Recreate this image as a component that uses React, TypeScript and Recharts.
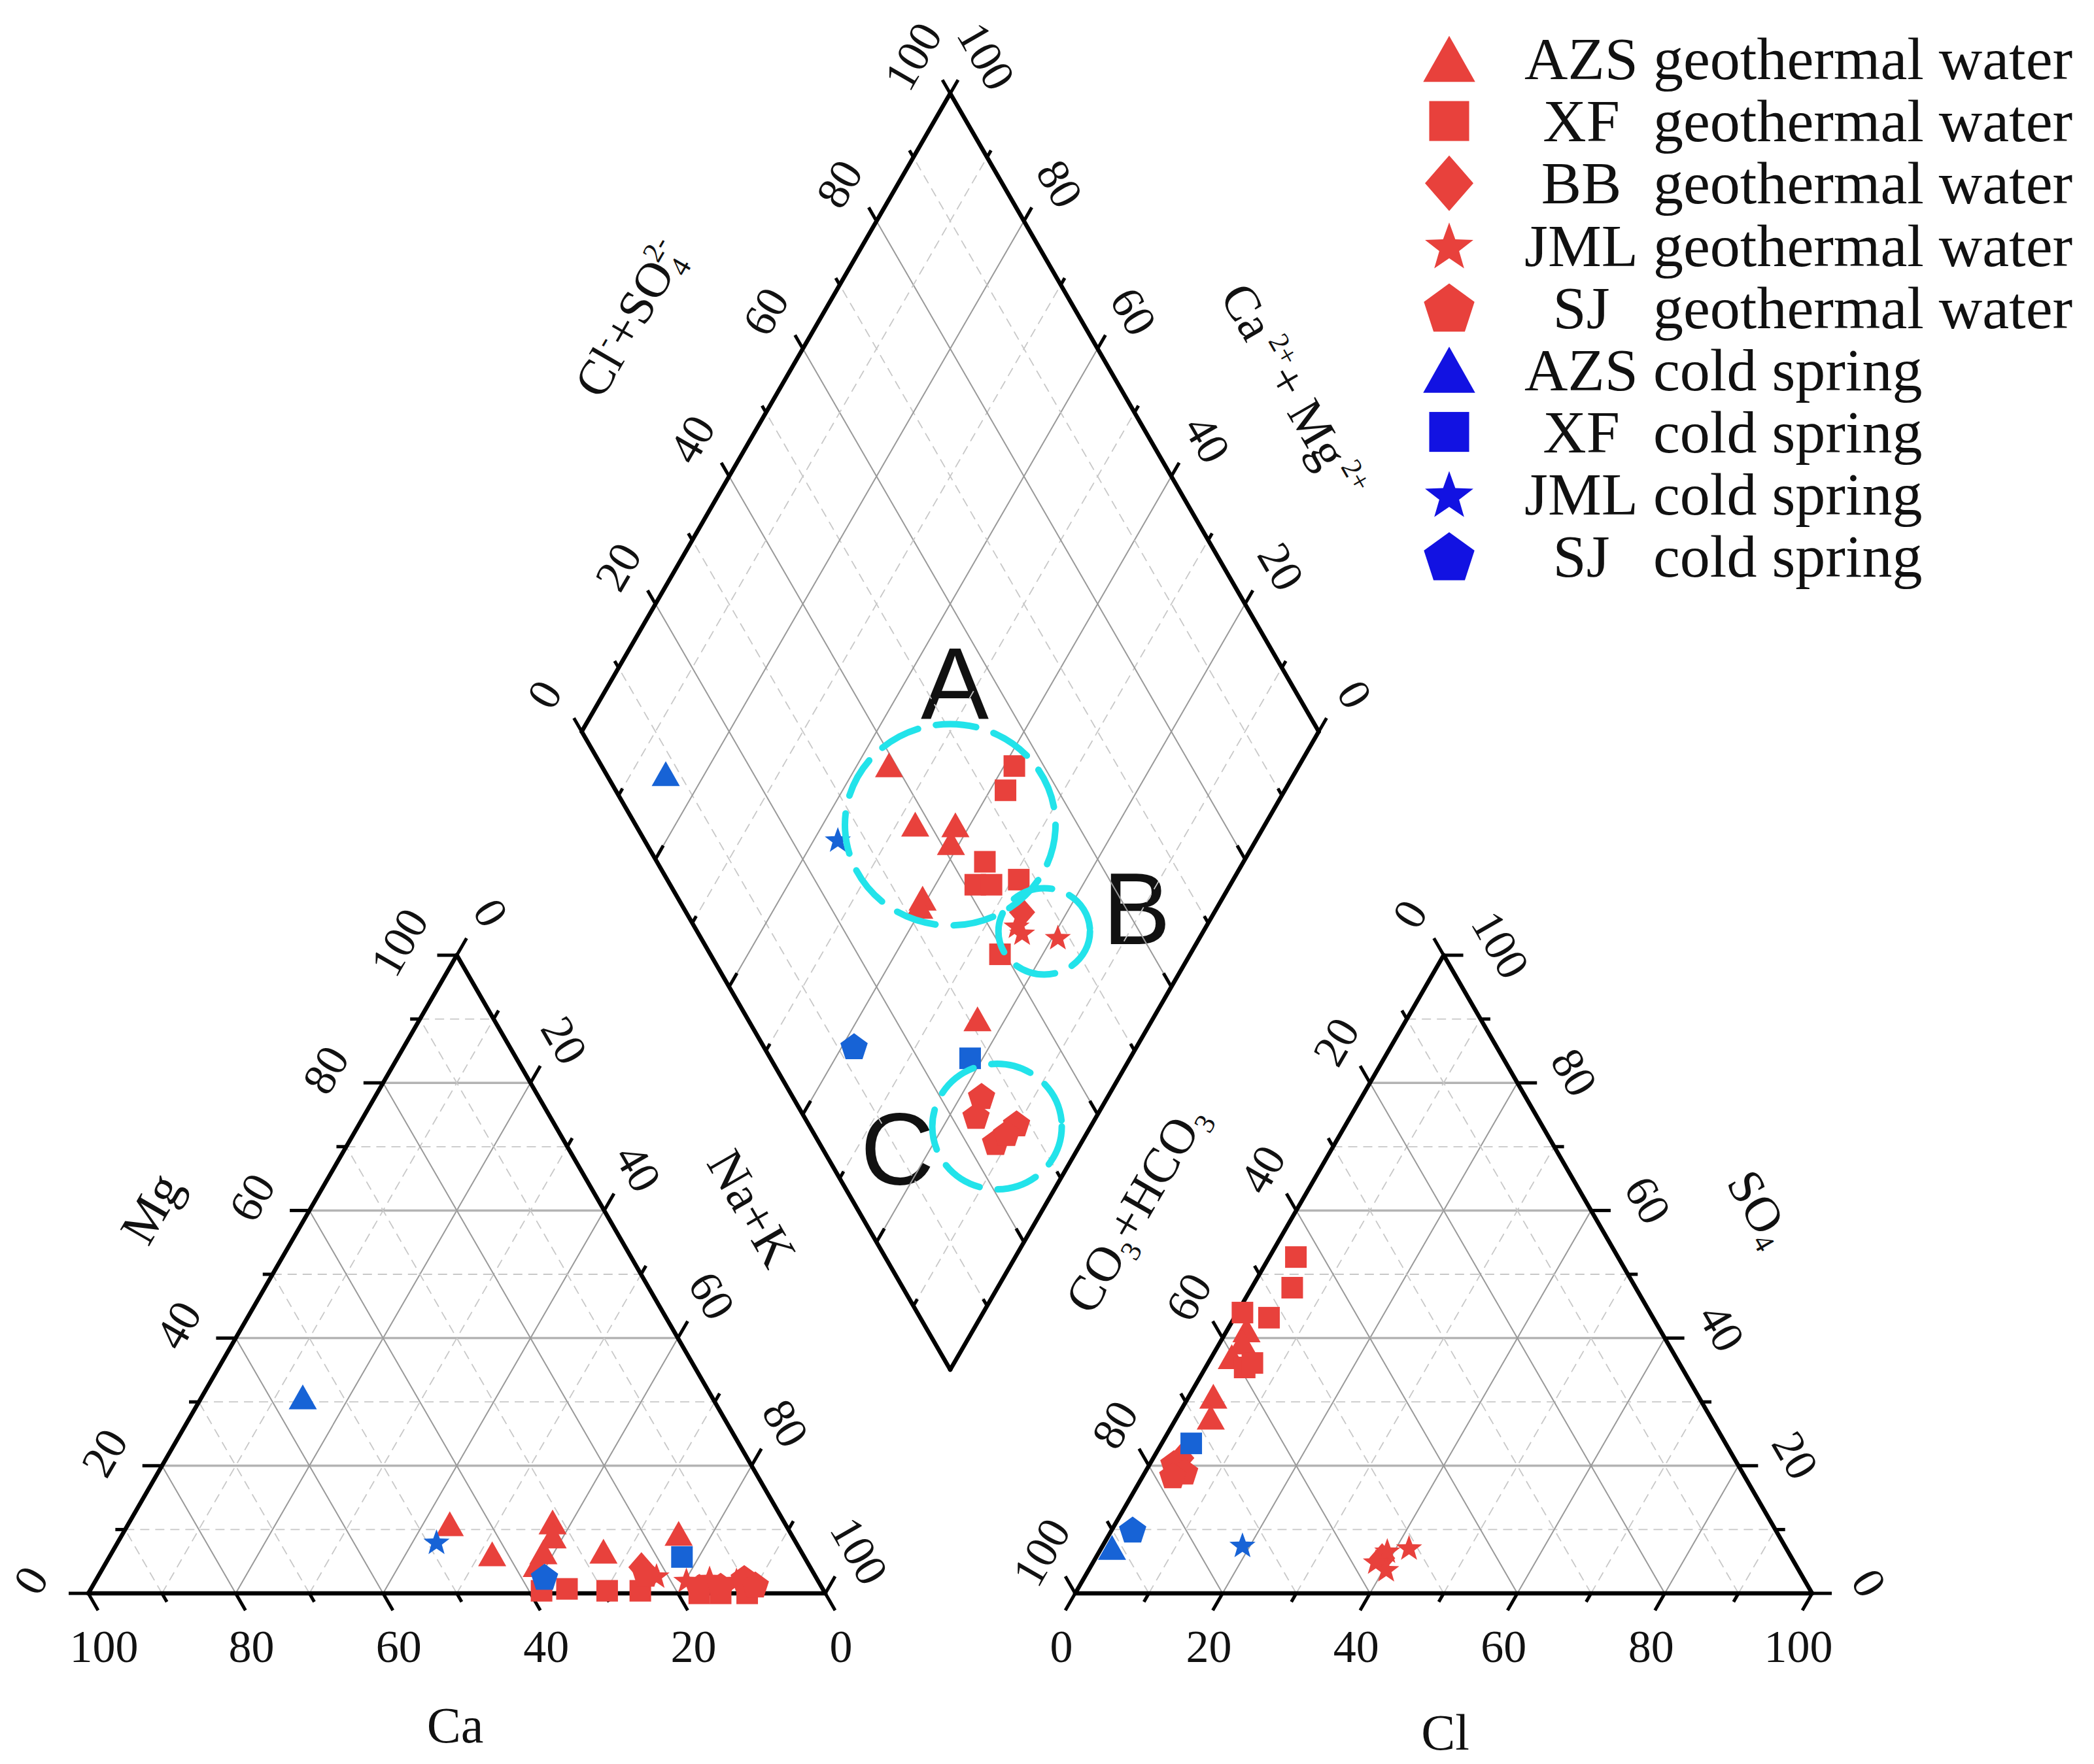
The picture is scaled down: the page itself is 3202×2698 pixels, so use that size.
import React from "react";
import {
  ScatterChart,
  Scatter,
  XAxis,
  YAxis,
  ReferenceLine,
  ReferenceDot,
  Customized,
} from "recharts";

// canvas + layout of the three Piper fields (units: percent along a side)
const W = 3202;
const H = 2698;
const U = 11.27; // px per percent
const OX = 135; // px x of the Ca corner
const OY = 2437; // px y of the triangle bases
const GAP = 33.9; // gap between cation and anion triangles
const AOX = 100 + GAP; // left corner of the anion triangle
const S3 = Math.sqrt(3) / 2;
const DBX = 100 + GAP / 2; // bottom corner of the diamond
const DBY = 30.35;

const X_DOMAIN = [-OX / U, (W - OX) / U];
const Y_DOMAIN = [-(H - OY) / U, OY / U];

const RED = "#E8413C";
const BLUE = "#1763D6";
const BLUE_KEY = "#1212E2";
const SERIF = "'Liberation Serif','Times New Roman',serif";
const SANS = "'Liberation Sans',Arial,sans-serif";

const TICKS = [0, 10, 20, 30, 40, 50, 60, 70, 80, 90, 100];
const GRID = [10, 20, 30, 40, 50, 60, 70, 80, 90];
const LABELS = [0, 20, 40, 60, 80, 100];

// cation triangle: [Mg, Na+K] in %
const cationAzsGeo = [[10.9, 43.6], [6.2, 51.7], [11.2, 57.4], [9.0, 58.5], [6.5, 58.5], [4.5, 58.6], [6.6, 66.6], [9.4, 75.4]];
const cationXfGeo = [[0.4, 61.3], [0.7, 64.6], [0.4, 70.2], [0.4, 74.7], [0, 82.9], [0, 85.8], [0, 89.4]];
const cationBbGeo = [[4.1, 73.0]];
const cationJmlGeo = [[2.8, 75.7], [2.1, 80.1], [2.4, 83.1], [2.1, 86.9]];
const cationSjGeo = [[1.0, 82.4], [1.2, 85.2], [2.4, 87.8], [1.4, 89.8], [3.1, 74.1]];
const cationAzsCold = [[30.8, 13.7]];
const cationXfCold = [[5.7, 77.7]];
const cationJmlCold = [[8.1, 43.2]];
const cationSjCold = [[2.6, 60.6]];

// anion triangle: [SO4, Cl] in %
const anionAzsGeo = [[41.3, 2.6], [39.4, 3.0], [37.1, 2.7], [30.9, 3.3], [27.6, 4.6]];
const anionXfGeo = [[52.7, 3.6], [47.9, 5.5], [43.2, 4.7], [44.0, 0.7], [35.4, 5.3], [36.1, 6.0]];
const anionBbGeo = [[21.2, 3.8], [5.5, 38.9]];
const anionJmlGeo = [[6.7, 39.0], [7.2, 41.7], [5.0, 38.3], [3.8, 40.3]];
const anionSjGeo = [[20.4, 3.2], [19.1, 5.3], [18.5, 4.0]];
const anionAzsCold = [[7.2, 1.4]];
const anionXfCold = [[23.5, 4.0]];
const anionJmlCold = [[7.6, 18.9]];
const anionSjCold = [[10.0, 2.8]];

// diamond: [Cl+SO4, Ca+Mg] in %
const diamondAzsGeo = [[39.1, 55.7], [38.0, 47.5], [43.4, 42.0], [41.4, 41.2], [33.2, 40.7], [32.1, 40.5], [31.2, 23.8]];
const diamondXfGeo = [[56.0, 38.6], [52.9, 37.9], [44.5, 35.1], [41.4, 34.6], [43.6, 32.4], [47.7, 29.1], [39.3, 25.8]];
const diamondBbGeo = [[45.6, 26.1]];
const diamondJmlGeo = [[44.0, 24.5], [48.5, 19.3], [43.8, 25.8]];
const diamondSjGeo = [[25.7, 17.2], [23.4, 16.4], [24.0, 11.7], [28.3, 10.3], [26.2, 10.9]];
const diamondAzsCold = [[8.1, 85.3]];
const diamondXfCold = [[27.1, 21.7]];
const diamondJmlCold = [[26.3, 56.8]];
const diamondSjCold = [[12.3, 38.4]];

const groups = [
  { abbr: "AZS", desc: "geothermal water", kind: "triangle", color: RED, key: RED, cation: cationAzsGeo, anion: anionAzsGeo, diamond: diamondAzsGeo },
  { abbr: "XF", desc: "geothermal water", kind: "square", color: RED, key: RED, cation: cationXfGeo, anion: anionXfGeo, diamond: diamondXfGeo },
  { abbr: "BB", desc: "geothermal water", kind: "diamond", color: RED, key: RED, cation: cationBbGeo, anion: anionBbGeo, diamond: diamondBbGeo },
  { abbr: "JML", desc: "geothermal water", kind: "star", color: RED, key: RED, cation: cationJmlGeo, anion: anionJmlGeo, diamond: diamondJmlGeo },
  { abbr: "SJ", desc: "geothermal water", kind: "pentagon", color: RED, key: RED, cation: cationSjGeo, anion: anionSjGeo, diamond: diamondSjGeo },
  { abbr: "AZS", desc: "cold spring", kind: "triangle", color: BLUE, key: BLUE_KEY, cation: cationAzsCold, anion: anionAzsCold, diamond: diamondAzsCold },
  { abbr: "XF", desc: "cold spring", kind: "square", color: BLUE, key: BLUE_KEY, cation: cationXfCold, anion: anionXfCold, diamond: diamondXfCold },
  { abbr: "JML", desc: "cold spring", kind: "star", color: BLUE, key: BLUE_KEY, cation: cationJmlCold, anion: anionJmlCold, diamond: diamondJmlCold },
  { abbr: "SJ", desc: "cold spring", kind: "pentagon", color: BLUE, key: BLUE_KEY, cation: cationSjCold, anion: anionSjCold, diamond: diamondSjCold },
];

// dashed rings round groups A, B, C: [Cl+SO4, Ca+Mg, rx px, ry px]
const rings = [
  [42.7, 42.7, 161, 154],
  [47.1, 21.6, 70, 66],
  [25.4, 12.7, 99, 96],
];

// ternary -> plane
const cationXY = (mg: number, nak: number) => ({ x: nak + mg / 2, y: S3 * mg });
const anionXY = (so4: number, cl: number) => ({ x: AOX + cl + so4 / 2, y: S3 * so4 });
const dP = (a: number, c: number): [number, number] => [DBX + 0.5 * a - 0.5 * c, DBY + S3 * (a + c)];
const diamondXY = (a: number, c: number) => {
  const [x, y] = dP(a, c);
  return { x, y };
};
const px = (x: number, y: number): [number, number] => [OX + x * U, OY - y * U];

type Seg = { a: [number, number]; b: [number, number]; stroke: string; w: number; dash?: string; cap?: string };
const segs: Seg[] = [];

const MAJ_H = { stroke: "#b3b3b3", w: 3.5 };
const MAJ_D = { stroke: "#999999", w: 2 };
const MIN = { stroke: "#c8c8c8", w: 1.8, dash: "14 9" };
const EDGE = { stroke: "#000", w: 6.5, cap: "round" };
const TICK = { stroke: "#000", w: 5, cap: "butt" };

function tick(p: [number, number], d: [number, number], len: number) {
  segs.push({ a: p, b: [p[0] + d[0] * len, p[1] + d[1] * len], ...TICK });
}

function triangle(ox: number, side: "cation" | "anion") {
  GRID.forEach((v) => {
    const major = v % 20 === 0;
    segs.push({ a: [ox + v / 2, S3 * v], b: [ox + 100 - v / 2, S3 * v], ...(major ? MAJ_H : MIN) });
    segs.push({ a: [ox + v, 0], b: [ox + 50 + v / 2, S3 * (100 - v)], ...(major ? MAJ_D : MIN) });
    segs.push({ a: [ox + v, 0], b: [ox + v / 2, S3 * v], ...(major ? MAJ_D : MIN) });
  });
  segs.push({ a: [ox, 0], b: [ox + 100, 0], ...EDGE });
  segs.push({ a: [ox, 0], b: [ox + 50, S3 * 100], ...EDGE });
  segs.push({ a: [ox + 100, 0], b: [ox + 50, S3 * 100], ...EDGE });
  TICKS.forEach((t) => {
    const len = t % 20 === 0 ? 2.66 : 1.33;
    if (side === "cation") {
      tick([ox + t, 0], [0.5, -S3], len);
      tick([ox + t / 2, S3 * t], [-1, 0], len);
      tick([ox + 50 + t / 2, S3 * (100 - t)], [0.5, S3], len);
    } else {
      tick([ox + t, 0], [-0.5, -S3], len);
      tick([ox + 100 - t / 2, S3 * t], [1, 0], len);
      tick([ox + t / 2, S3 * t], [-0.5, S3], len);
    }
  });
}

function diamond() {
  GRID.forEach((v) => {
    const st = v % 20 === 0 ? MAJ_D : MIN;
    segs.push({ a: dP(v, 0), b: dP(v, 100), ...st });
    segs.push({ a: dP(0, v), b: dP(100, v), ...st });
  });
  segs.push({ a: dP(0, 0), b: dP(100, 0), ...EDGE });
  segs.push({ a: dP(0, 0), b: dP(0, 100), ...EDGE });
  segs.push({ a: dP(0, 100), b: dP(100, 100), ...EDGE });
  segs.push({ a: dP(100, 0), b: dP(100, 100), ...EDGE });
  const eR: [number, number] = [0.5, S3];
  const eL: [number, number] = [-0.5, S3];
  TICKS.forEach((t) => {
    const len = t % 20 === 0 ? 2.13 : 1.07;
    tick(dP(t, 100), eL, len);
    tick(dP(100, t), eR, len);
    tick(dP(0, t), eR, len);
    tick(dP(t, 0), eL, len);
  });
}

triangle(0, "cation");
triangle(AOX, "anion");
diamond();

function Marker({ cx, cy, kind, color, k = 1 }: any) {
  if (cx == null || cy == null) return null;
  if (kind === "triangle") {
    const hw = 21.5 * k;
    const hh = 19 * k;
    return <polygon points={`${cx},${cy - hh} ${cx - hw},${cy + hh} ${cx + hw},${cy + hh}`} fill={color} />;
  }
  if (kind === "square") {
    const h = 16.5 * k;
    return <rect x={cx - h} y={cy - h} width={2 * h} height={2 * h} fill={color} />;
  }
  if (kind === "diamond") {
    const hw = 20 * k;
    const hh = 23 * k;
    return <polygon points={`${cx},${cy - hh} ${cx + hw},${cy} ${cx},${cy + hh} ${cx - hw},${cy}`} fill={color} />;
  }
  const pts: string[] = [];
  if (kind === "star") {
    const R = 21 * k;
    const r = 8.6 * k;
    const dy = 0.095 * R;
    for (let i = 0; i < 10; i++) {
      const rad = i % 2 === 0 ? R : r;
      const ang = -Math.PI / 2 + (i * Math.PI) / 5;
      pts.push(`${cx + rad * Math.cos(ang)},${cy + dy + rad * Math.sin(ang)}`);
    }
  } else {
    const R = 22 * k;
    const dy = 0.095 * R;
    for (let i = 0; i < 5; i++) {
      const ang = -Math.PI / 2 + (i * 2 * Math.PI) / 5;
      pts.push(`${cx + R * Math.cos(ang)},${cy + dy + R * Math.sin(ang)}`);
    }
  }
  return <polygon points={pts.join(" ")} fill={color} />;
}

function Txt({ x, y, a = 0, size = 70, children, family = SERIF, anchor = "middle" }: any) {
  return (
    <text
      x={x}
      y={y}
      dy="0.34em"
      transform={a ? `rotate(${a} ${x} ${y})` : undefined}
      textAnchor={anchor}
      fontSize={size}
      fontFamily={family}
      fill="#111"
    >
      {children}
    </text>
  );
}

function Annotations() {
  const out: any[] = [];
  LABELS.forEach((v) => {
    let [x, y] = px(100 - v, 0);
    out.push(<Txt key={`ca${v}`} x={x + 24} y={y + 81}>{v}</Txt>);
    [x, y] = px(v / 2, S3 * v);
    out.push(<Txt key={`mg${v}`} x={x - 88} y={y - 20} a={-60}>{v}</Txt>);
    [x, y] = px(50 + v / 2, S3 * (100 - v));
    out.push(<Txt key={`na${v}`} x={x + 52} y={y - 65} a={60}>{v}</Txt>);
    [x, y] = px(AOX + v, 0);
    out.push(<Txt key={`cl${v}`} x={x - 21} y={y + 81}>{v}</Txt>);
    [x, y] = px(AOX + (100 - v) / 2, S3 * (100 - v));
    out.push(<Txt key={`co${v}`} x={x - 52} y={y - 63} a={-60}>{v}</Txt>);
    [x, y] = px(AOX + 100 - v / 2, S3 * v);
    out.push(<Txt key={`so${v}`} x={x + 87} y={y - 16} a={60}>{v}</Txt>);
    [x, y] = px(...dP(v, 100));
    out.push(<Txt key={`da${v}`} x={x - 57} y={y - 57} a={-60}>{v}</Txt>);
    [x, y] = px(...dP(100, v));
    out.push(<Txt key={`dc${v}`} x={x + 55} y={y - 57} a={60}>{v}</Txt>);
  });

  const sm = 44;
  return (
    <g>
      {out}
      <Txt x={696} y={2638} size={78}>Ca</Txt>
      <Txt x={2210} y={2649} size={78}>Cl</Txt>
      <Txt x={231} y={1848} a={-60} size={78}>Mg</Txt>
      <Txt x={1150} y={1848} a={60} size={78}>Na+K</Txt>
      <Txt x={1736} y={1848} a={-60} size={76}>
        CO<tspan dy={16} fontSize={sm}>3</tspan>
        <tspan dy={-16}>+HCO</tspan>
        <tspan dy={16} fontSize={sm}>3</tspan>
      </Txt>
      <Txt x={2691} y={1848} a={60} size={76}>
        SO<tspan dy={10} fontSize={sm}>4</tspan>
      </Txt>
      <Txt x={963} y={487} a={-60} size={76}>
        Cl<tspan dy={-30} fontSize={sm}>-</tspan>
        <tspan dy={30}>+SO</tspan>
        <tspan dy={16} fontSize={sm}>4</tspan>
        <tspan dy={-46} dx={-24} fontSize={sm}>2-</tspan>
      </Txt>
      <Txt x={1978} y={598} a={60} size={76}>
        Ca<tspan dx={12} dy={-30} fontSize={sm}>2+</tspan>
        <tspan dy={30}>+ Mg</tspan>
        <tspan dx={8} dy={-30} fontSize={sm}>2+</tspan>
      </Txt>
      <Txt x={1460} y={1046} size={156} family={SANS}>A</Txt>
      <Txt x={1738} y={1391} size={156} family={SANS}>B</Txt>
      <Txt x={1372} y={1758} size={156} family={SANS}>C</Txt>
      {groups.map((g, i) => {
        const y = 90 + 95.1 * i;
        return (
          <g key={`lg${i}`}>
            <Marker cx={2216} cy={y} kind={g.kind} color={g.key} k={1.85} />
            <Txt x={2418} y={y} size={92}>{g.abbr}</Txt>
            <Txt x={2528} y={y} size={92} anchor="start">{g.desc}</Txt>
          </g>
        );
      })}
    </g>
  );
}

export default function App() {
  return (
    <div style={{ position: "absolute", left: 0, top: 0, width: W, height: H, background: "#fff" }}>
      <ScatterChart width={W} height={H} margin={{ top: 0, right: 0, bottom: 0, left: 0 }}>
        <XAxis type="number" dataKey="x" domain={X_DOMAIN} hide allowDataOverflow />
        <YAxis type="number" dataKey="y" domain={Y_DOMAIN} hide allowDataOverflow />
        {segs.map((s, i) => (
          <ReferenceLine
            key={`s${i}`}
            segment={[{ x: s.a[0], y: s.a[1] }, { x: s.b[0], y: s.b[1] }]}
            stroke={s.stroke}
            strokeWidth={s.w}
            strokeDasharray={s.dash}
            strokeLinecap={s.cap as any}
            ifOverflow="visible"
          />
        ))}
        {groups.map((g, i) => (
          <Scatter
            key={`g${i}`}
            name={`${g.abbr} ${g.desc}`}
            data={[
              ...g.cation.map(([mg, nak]) => cationXY(mg, nak)),
              ...g.anion.map(([so4, cl]) => anionXY(so4, cl)),
              ...g.diamond.map(([a, c]) => diamondXY(a, c)),
            ]}
            isAnimationActive={false}
            shape={(p: any) => <Marker cx={p.cx} cy={p.cy} kind={g.kind} color={g.color} />}
          />
        ))}
        {rings.map(([a, c, rx, ry], i) => {
          const [x, y] = dP(a, c);
          return (
            <ReferenceDot
              key={`r${i}`}
              x={x}
              y={y}
              r={rx}
              ifOverflow="visible"
              shape={(p: any) => (
                <ellipse
                  cx={p.cx}
                  cy={p.cy}
                  rx={rx}
                  ry={ry}
                  fill="none"
                  stroke="#22E3EA"
                  strokeWidth={10}
                  strokeDasharray="62 28"
                  strokeLinecap="round"
                />
              )}
            />
          );
        })}
        <Customized component={<Annotations />} />
      </ScatterChart>
    </div>
  );
}
